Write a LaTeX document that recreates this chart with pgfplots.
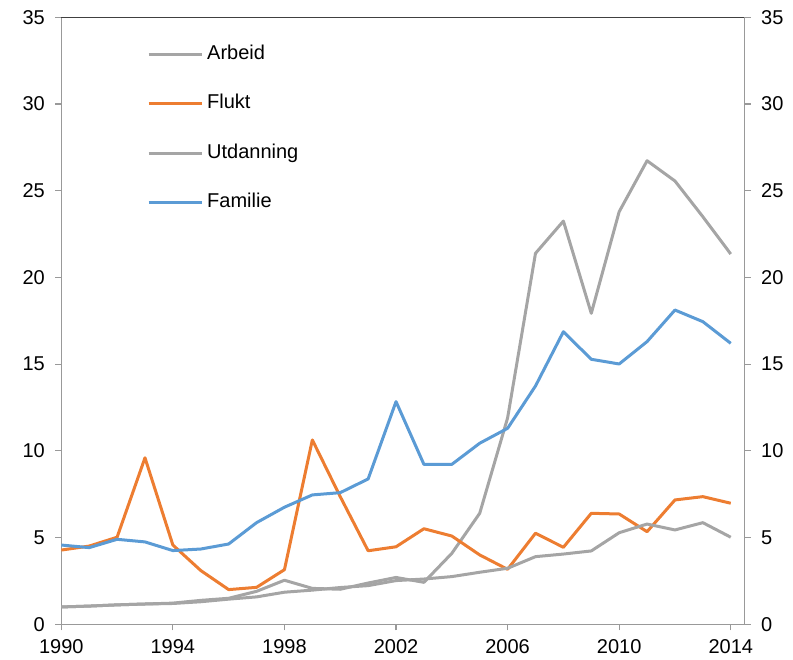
\documentclass[border=0pt]{standalone}
\usepackage{pgfplots}
\pgfplotsset{compat=1.18}
\usepackage{fontspec}
\setmainfont{Liberation Sans}
\definecolor{cgray}{HTML}{A5A5A5}
\definecolor{corange}{HTML}{ED7D31}
\definecolor{cblue}{HTML}{5B9BD5}
\definecolor{axgray}{HTML}{999999}
\begin{document}
\begin{tikzpicture}
\useasboundingbox (0,0) rectangle (793pt,660pt);
\begin{axis}[
 at={(61.3pt,35.7pt)}, anchor=south west,
 scale only axis, width=683.4pt, height=607pt,
 xmin=1990, xmax=2014.5, ymin=0, ymax=35,
 xtick={1990,1994,...,2014}, ytick={0,5,...,35},
 xtick pos=bottom, ytick pos=left, tick align=outside,
 major tick length=6pt,
 every tick/.style={axgray, line width=1.2pt},
 axis line style={axgray, line width=1.2pt},
 /pgf/number format/assume math mode=true,
 /pgf/number format/1000 sep={},
 tick label style={font=\fontsize{20}{23}\selectfont},
 yticklabel style={xshift=-7pt},
 xticklabel style={yshift=-6pt},
 clip=false,
 legend cell align=left,
 legend style={draw=none, fill=none, inner sep=0pt,
   at={(axis description cs:0.1254,0.957)}, anchor=north west,
   row sep=27.4pt, column sep=2pt,
   font=\fontsize{20}{23}\selectfont,
   nodes={text height=14pt, text depth=4pt, inner sep=2pt}},
 legend image code/.code={\draw[#1] (0pt,0pt) -- (53pt,0pt);},
 every axis plot/.append style={line width=3pt, line join=round, no markers},
]
\addplot[cgray] coordinates {(1990,1.0)(1991,1.05)(1992,1.12)(1993,1.17)(1994,1.22)(1995,1.38)(1996,1.5)(1997,1.9)(1998,2.54)(1999,2.07)(2000,2.02)(2001,2.38)(2002,2.7)(2003,2.42)(2004,4.09)(2005,6.4)(2006,11.9)(2007,21.39)(2008,23.25)(2009,17.93)(2010,23.79)(2011,26.73)(2012,25.56)(2013,23.5)(2014,21.35)};
\addlegendentry{Arbeid}
\addplot[corange] coordinates {(1990,4.28)(1991,4.51)(1992,5.02)(1993,9.6)(1994,4.57)(1995,3.1)(1996,2.0)(1997,2.13)(1998,3.15)(1999,10.63)(2000,7.36)(2001,4.24)(2002,4.47)(2003,5.51)(2004,5.09)(2005,4.0)(2006,3.17)(2007,5.25)(2008,4.44)(2009,6.4)(2010,6.36)(2011,5.34)(2012,7.17)(2013,7.36)(2014,6.98)};
\addlegendentry{Flukt}
\addplot[cgray] coordinates {(1990,1.0)(1991,1.05)(1992,1.12)(1993,1.17)(1994,1.2)(1995,1.3)(1996,1.45)(1997,1.58)(1998,1.85)(1999,1.97)(2000,2.12)(2001,2.23)(2002,2.52)(2003,2.61)(2004,2.75)(2005,3.0)(2006,3.23)(2007,3.9)(2008,4.05)(2009,4.23)(2010,5.28)(2011,5.78)(2012,5.44)(2013,5.86)(2014,5.02)};
\addlegendentry{Utdanning}
\addplot[cblue] coordinates {(1990,4.57)(1991,4.42)(1992,4.9)(1993,4.75)(1994,4.25)(1995,4.34)(1996,4.63)(1997,5.86)(1998,6.75)(1999,7.46)(2000,7.59)(2001,8.38)(2002,12.84)(2003,9.22)(2004,9.22)(2005,10.44)(2006,11.3)(2007,13.74)(2008,16.87)(2009,15.28)(2010,15.01)(2011,16.3)(2012,18.12)(2013,17.45)(2014,16.2)};
\addlegendentry{Familie}
\draw[black!75, line width=1.2pt] (rel axis cs:0,1) -- (rel axis cs:1,1);
\end{axis}
\begin{axis}[
 at={(61.3pt,35.7pt)}, anchor=south west,
 scale only axis, width=683.4pt, height=607pt,
 xmin=1990, xmax=2014.5, ymin=0, ymax=35,
 axis x line=none, axis y line*=right,
 ytick={0,5,...,35}, tick align=outside,
 major tick length=6pt,
 every tick/.style={axgray, line width=1.2pt},
 axis line style={axgray, line width=1.2pt, -},
 /pgf/number format/assume math mode=true,
 tick label style={font=\fontsize{20}{23}\selectfont},
 yticklabel style={xshift=7pt},
]
\end{axis}
\end{tikzpicture}
\end{document}
